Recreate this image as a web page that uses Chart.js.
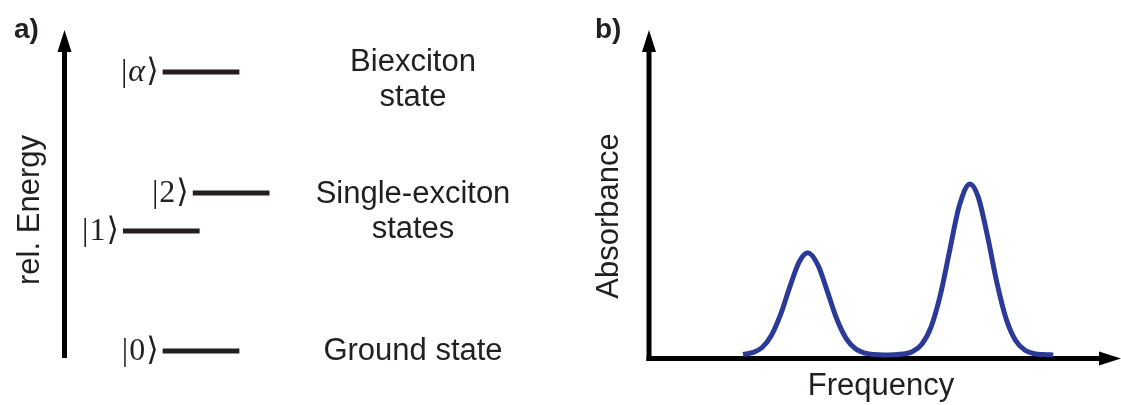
<!DOCTYPE html>
<html>
<head>
<meta charset="utf-8">
<script src="https://cdn.jsdelivr.net/npm/chart.js@4.4.0/dist/chart.umd.min.js"></script>
<style>
  html, body { margin: 0; padding: 0; background: #fff; }
  #wrap { position: relative; width: 1121px; height: 405px; overflow: hidden; }
  canvas { position: absolute; top: 0; }
  #levels { left: 0; }
  #spectrum { left: 560px; }
</style>
</head>
<body>
<div id="wrap">
  <canvas id="levels" width="560" height="405"></canvas>
  <canvas id="spectrum" width="561" height="405"></canvas>
</div>
<script>
// === Panel a: energy levels (rel. energy, arbitrary units) ===
const ketNames = ["0", "1", "2", "α"];
const levelEnergy = [0, 1.0, 1.317, 2.325];
const levelShift = [0, -0.29, 0.22, 0];
const stateLabels = [["Biexciton", "state"], ["Single-exciton", "states"], ["Ground state"]];
const stateLabelEnergy = [2.26, 1.16, 0];

// === Panel b: absorption spectrum ===
const frequency = [20, 22, 24, 26, 28, 30, 32, 33.8, 36, 38, 40, 42, 44, 46, 48, 50,
  52, 54, 56, 58, 60, 62, 64, 66, 68.3, 70, 72, 74, 76, 78, 80, 82, 84, 86];
const absorbance = [0.003, 0.013, 0.042, 0.112, 0.237, 0.401, 0.546, 0.597, 0.522, 0.367,
  0.207, 0.094, 0.034, 0.010, 0.002, 0.000, 0.001, 0.005, 0.019, 0.061, 0.163, 0.352,
  0.614, 0.870, 1.000, 0.927, 0.698, 0.425, 0.210, 0.084, 0.027, 0.007, 0.002, 0.000];

const INK = "#231f20";
const SANS = "'Liberation Sans', Arial, sans-serif";
const SERIF = "'Liberation Serif', 'DejaVu Serif', serif";
const LEVEL_HALF = 0.28;

function drawArrow(ctx, x1, y1, x2, y2) {
  const ang = Math.atan2(y2 - y1, x2 - x1);
  const head = 22, half = 7;
  ctx.save();
  ctx.strokeStyle = "#000";
  ctx.fillStyle = "#000";
  ctx.lineWidth = 5;
  ctx.beginPath();
  ctx.moveTo(x1, y1);
  ctx.lineTo(x2 - Math.cos(ang) * (head - 2), y2 - Math.sin(ang) * (head - 2));
  ctx.stroke();
  ctx.translate(x2, y2);
  ctx.rotate(ang);
  ctx.beginPath();
  ctx.moveTo(0, 0);
  ctx.lineTo(-head, -half);
  ctx.lineTo(-head, half);
  ctx.closePath();
  ctx.fill();
  ctx.restore();
}

function drawKet(ctx, name, xRight, y) {
  const up = "32px " + SERIF;
  const it = "italic 32px " + SERIF;
  const italic = /[^0-9]/.test(name);
  ctx.font = up;
  const wBar = ctx.measureText("|").width;
  const wClose = ctx.measureText("⟩").width;
  ctx.font = italic ? it : up;
  const wName = ctx.measureText(name).width;
  let x = xRight - (wBar + wName + wClose + 2);
  ctx.textAlign = "left";
  ctx.textBaseline = "middle";
  ctx.fillStyle = INK;
  ctx.font = up;
  ctx.fillText("|", x, y);
  x += wBar + 1;
  ctx.font = italic ? it : up;
  ctx.fillText(name, x, y);
  x += wName + 1;
  ctx.font = up;
  ctx.fillText("⟩", x, y);
}

// === Level diagram decorations ===
const levelDecor = {
  id: "levelDecor",
  afterDatasetsDraw(chart) {
    const { ctx, chartArea, scales } = chart;
    drawArrow(ctx, chartArea.left + 0.5, chartArea.bottom, chartArea.left + 0.5, chartArea.top);

    ketNames.forEach((k, i) => {
      const xr = scales.x.getPixelForValue(levelShift[i] - LEVEL_HALF) - 4;
      drawKet(ctx, k, xr, scales.y.getPixelForValue(levelEnergy[i]) + 1);
    });

    ctx.save();
    ctx.fillStyle = INK;
    ctx.font = "31px " + SANS;
    ctx.textAlign = "center";
    ctx.textBaseline = "middle";
    stateLabels.forEach((lines, i) => {
      const yc = scales.y.getPixelForValue(stateLabelEnergy[i]);
      lines.forEach((t, j) => {
        ctx.fillText(t, 413, yc + (j - (lines.length - 1) / 2) * 35);
      });
    });

    ctx.font = "bold 28px " + SANS;
    ctx.textAlign = "left";
    ctx.textBaseline = "alphabetic";
    ctx.fillText("a)", 14, 38);

    ctx.font = "31px " + SANS;
    ctx.translate(30, 210);
    ctx.rotate(-Math.PI / 2);
    ctx.textAlign = "center";
    ctx.textBaseline = "middle";
    ctx.fillText("rel. Energy", 0, 0);
    ctx.restore();
  }
};

new Chart(document.getElementById("levels"), {
  type: "line",
  data: {
    datasets: ketNames.map((k, i) => ({
      label: k,
      data: [
        { x: levelShift[i] - LEVEL_HALF, y: levelEnergy[i] },
        { x: levelShift[i] + LEVEL_HALF, y: levelEnergy[i] }
      ],
      borderColor: INK,
      borderWidth: 5,
      borderCapStyle: "butt",
      pointRadius: 0,
      fill: false
    }))
  },
  options: {
    responsive: false,
    animation: false,
    layout: { padding: { left: 64, right: 222, top: 30, bottom: 47 } },
    plugins: { legend: { display: false }, tooltip: { enabled: false } },
    scales: {
      x: { type: "linear", min: -1, max: 1, display: false },
      y: { type: "linear", min: -0.058, max: 2.675, display: false }
    }
  },
  plugins: [levelDecor]
});

// === Spectrum decorations ===
const spectrumDecor = {
  id: "spectrumDecor",
  beforeDatasetsDraw(chart) {
    const { ctx, chartArea } = chart;
    drawArrow(ctx, chartArea.left, chartArea.bottom + 3, chartArea.left, chartArea.top);
    drawArrow(ctx, chartArea.left - 2.5, chartArea.bottom + 0.5, chartArea.right + 2, chartArea.bottom + 0.5);
  },
  afterDatasetsDraw(chart) {
    const { ctx } = chart;
    ctx.save();
    ctx.fillStyle = INK;
    ctx.font = "bold 28px " + SANS;
    ctx.textAlign = "left";
    ctx.textBaseline = "alphabetic";
    ctx.fillText("b)", 35, 38);

    ctx.font = "31px " + SANS;
    ctx.textAlign = "center";
    ctx.fillText("Frequency", 321, 395);

    ctx.translate(58, 216);
    ctx.rotate(-Math.PI / 2);
    ctx.textBaseline = "alphabetic";
    ctx.fillText("Absorbance", 0, 0);
    ctx.restore();
  }
};

new Chart(document.getElementById("spectrum"), {
  type: "line",
  data: {
    datasets: [{
      label: "Absorbance",
      data: frequency.map((f, i) => ({ x: f, y: absorbance[i] })),
      borderColor: "#2a3a96",
      borderWidth: 5,
      cubicInterpolationMode: "monotone",
      pointRadius: 0,
      fill: false
    }]
  },
  options: {
    responsive: false,
    animation: false,
    layout: { padding: { left: 89, right: 2, top: 30, bottom: 47 } },
    plugins: { legend: { display: false }, tooltip: { enabled: false } },
    scales: {
      x: { type: "linear", min: 0, max: 100, display: false },
      y: { type: "linear", min: -0.018, max: 1.9, display: false }
    }
  },
  plugins: [spectrumDecor]
});
</script>
</body>
</html>
